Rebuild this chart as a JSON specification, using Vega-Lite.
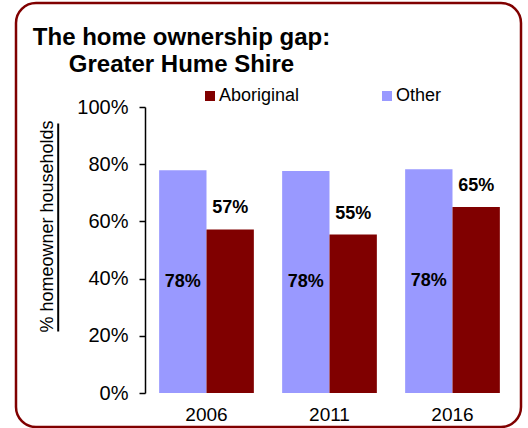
{
  "$schema": "https://vega.github.io/schema/vega-lite/v6.json",
  "width": 505,
  "height": 424,
  "autosize": {"type": "none"},
  "padding": {"left": 16, "top": 3, "right": 7, "bottom": 1},
  "background": "white",
  "config": {
    "view": {"stroke": "#800000", "strokeWidth": 2.5, "cornerRadius": 20},
    "font": "Liberation Sans"
  },
  "title": {
    "text": ["The home ownership gap:", "Greater Hume Shire"],
    "fontSize": 24,
    "fontWeight": "bold",
    "font": "Liberation Sans",
    "color": "black",
    "anchor": "middle",
    "align": "center",
    "dx": -87,
    "baseline": "top",
    "offset": 0,
    "dy": 74,
    "lineHeight": 27
  },
  "data": {
    "values": [
      {"year": "2006", "group": "Other", "value": 0.779},
      {"year": "2006", "group": "Aboriginal", "value": 0.572},
      {"year": "2011", "group": "Other", "value": 0.776},
      {"year": "2011", "group": "Aboriginal", "value": 0.554},
      {"year": "2016", "group": "Other", "value": 0.782},
      {"year": "2016", "group": "Aboriginal", "value": 0.65}
    ]
  },
  "layer": [
    {
      "layer": [
        {
          "mark": {"type": "bar"},
          "encoding": {
            "x": {
              "field": "year",
              "type": "nominal",
              "scale": {"range": [129, 498], "paddingInner": 0.23, "paddingOuter": 0.115},
              "axis": {
                "title": null,
                "orient": "bottom",
                "offset": -34,
                "domain": false,
                "ticks": false,
                "labelAngle": 0,
                "labelFontSize": 19,
                "labelColor": "black",
                "labelPadding": 12
              }
            },
            "xOffset": {
              "field": "group",
              "sort": ["Other", "Aboriginal"],
              "scale": {"paddingInner": 0, "paddingOuter": 0}
            },
            "y": {
              "field": "value",
              "type": "quantitative",
              "scale": {"domain": [0, 1], "range": [390, 104], "nice": false},
              "axis": {
                "values": [0, 0.2, 0.4, 0.6, 0.8, 1],
                "format": ".0%",
                "offset": -129,
                "grid": false,
                "domainColor": "black",
                "domainWidth": 1.5,
                "tickColor": "black",
                "tickWidth": 1.5,
                "tickSize": 6,
                "labelFontSize": 20,
                "labelColor": "black",
                "labelPadding": 11,
                "title": "% homeowner households",
                "titleFontSize": 18,
                "titleFontWeight": "normal",
                "titleColor": "black",
                "titleX": -98,
                "titleY": 223,
                "titleBaseline": "middle"
              }
            },
            "color": {
              "field": "group",
              "type": "nominal",
              "scale": {"domain": ["Aboriginal", "Other"], "range": ["#800000", "#9999FF"]},
              "legend": {
                "title": null,
                "orient": "none",
                "legendX": 185,
                "legendY": 84,
                "direction": "horizontal",
                "columns": 2,
                "columnPadding": 78,
                "padding": 0,
                "symbolType": "square",
                "symbolSize": 100,
                "symbolStrokeWidth": 0,
                "symbolOpacity": 1,
                "labelFontSize": 18,
                "labelColor": "black",
                "labelOffset": 0
              }
            }
          }
        },
        {
          "transform": [
            {"filter": "datum.group === 'Other'"},
            {"calculate": "datum.value / 2", "as": "mid"}
          ],
          "mark": {"type": "text", "fontSize": 18, "fontWeight": "bold", "color": "black", "baseline": "middle"},
          "encoding": {
            "x": {"field": "year", "type": "nominal"},
            "xOffset": {"field": "group", "sort": ["Other", "Aboriginal"]},
            "y": {"field": "mid", "type": "quantitative"},
            "text": {"field": "value", "type": "quantitative", "format": ".0%"}
          }
        },
        {
          "transform": [{"filter": "datum.group === 'Aboriginal'"}],
          "mark": {"type": "text", "fontSize": 18, "fontWeight": "bold", "color": "black", "baseline": "alphabetic", "dy": -16},
          "encoding": {
            "x": {"field": "year", "type": "nominal"},
            "xOffset": {"field": "group", "sort": ["Other", "Aboriginal"]},
            "y": {"field": "value", "type": "quantitative"},
            "text": {"field": "value", "type": "quantitative", "format": ".0%"}
          }
        }
      ]
    },
    {
      "mark": {"type": "rule", "opacity": 0},
      "encoding": {
        "y": {
          "datum": 0,
          "type": "quantitative",
          "scale": {"domain": [0, 1], "range": [328, 120], "nice": false},
          "axis": {
            "orient": "left",
            "offset": -41.7,
            "labels": false,
            "ticks": false,
            "grid": false,
            "domain": true,
            "domainColor": "black",
            "domainWidth": 2,
            "title": null
          }
        }
      }
    }
  ],
  "resolve": {"scale": {"y": "independent"}, "axis": {"y": "independent"}}
}
